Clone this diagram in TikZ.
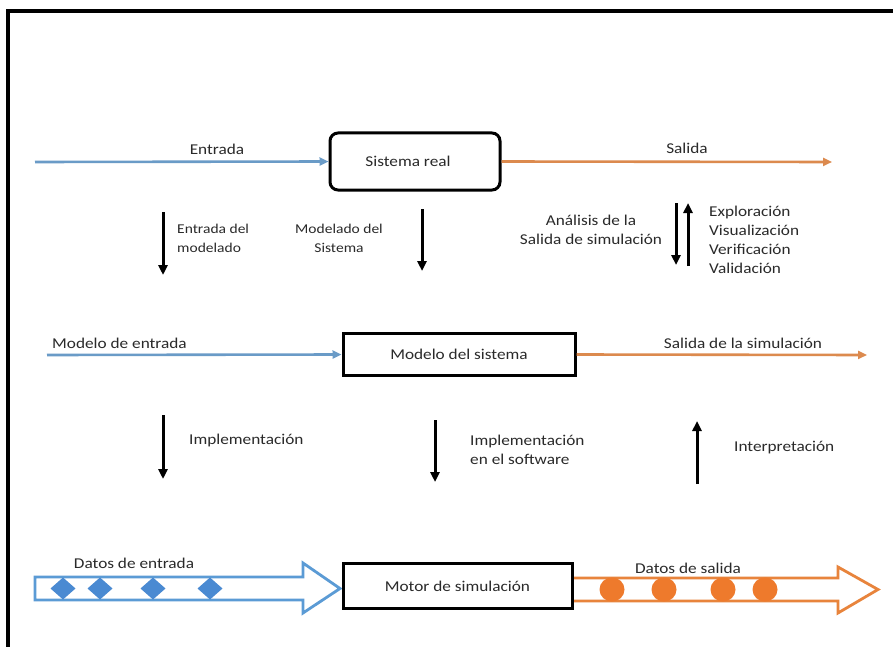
\documentclass[tikz,border=0pt]{standalone}
\usepackage{fontspec}
\setmainfont{Carlito}[FakeStretch=1.15]
\usetikzlibrary{arrows.meta}
\definecolor{inblue}{HTML}{6A9BC7}
\definecolor{outorange}{HTML}{DC8A4E}
\definecolor{datablue}{HTML}{5B9BD5}
\definecolor{dotblue}{HTML}{4A8AD2}
\definecolor{dataorange}{HTML}{E8843C}
\definecolor{dotorange}{HTML}{EE7A2C}
\definecolor{ink}{HTML}{2A2A2A}
\tikzset{
  lbl/.style={font=\fontsize{15}{19}\selectfont, text=ink, inner sep=0pt},
  smalllbl/.style={lbl, font=\fontsize{13.5}{19}\selectfont},
  boxsq/.style={draw=black, line width=3pt, fill=white, font=\fontsize{15}{19}\selectfont, text=ink},
  flowin/.style={draw=inblue, line width=2.6pt, -{Triangle[length=9pt,width=8pt]}},
  flowout/.style={draw=outorange, line width=2.6pt, -{Triangle[length=9pt,width=8pt]}},
  vstep/.style={draw=black, line width=3pt, -{Triangle[length=10pt,width=9pt]}},
  hollowblue/.style={draw=datablue, line width=2.8pt, fill=white, line join=miter},
  hollowor/.style={draw=dataorange, line width=2.8pt, fill=white, line join=miter},
}
\begin{document}
\begin{tikzpicture}[x=1pt, y=-1pt]
\useasboundingbox (0,0) rectangle (893,647);
\fill[white] (0,0) rectangle (893,647);
% frame edges
\draw[line width=4pt] (8,647) -- (8,11.5) -- (893,11.5);

% --- row 1: real system ---
\node[boxsq, rounded corners=8pt, minimum width=170pt, minimum height=57pt] (real) at (415,161.5) {Sistema real\hspace*{14pt}};
\coordinate (inA) at (35,162);
\coordinate (outA) at (832,162);
\draw[flowin] (inA) -- (real.west);
\draw[flowout] (real.east) -- (outA);
\node[lbl] (lEntrada) at (217,149) {Entrada};
\node[lbl] (lSalida) at (687,148) {Salida};

% --- arrows between row 1 and row 2 ---
\coordinate (a1s) at (163,212); \coordinate (a1e) at (163,275);
\draw[vstep] (a1s) -- (a1e);
\node[smalllbl, anchor=west, align=left] (lEntMod) at (177,238) {Entrada del\\modelado};
\coordinate (a2s) at (422,209); \coordinate (a2e) at (422,271);
\draw[vstep] (a2s) -- (a2e);
\node[smalllbl, align=center] (lModSis) at (339,238) {Modelado del\\Sistema};
\node[lbl, align=center] (lAnal) at (591,230) {Análisis de la\\Salida de simulación};
\coordinate (a3s) at (676,203); \coordinate (a3e) at (676,265);
\draw[vstep] (a3s) -- (a3e);
\coordinate (a4s) at (688,266); \coordinate (a4e) at (688,203);
\draw[vstep] (a4s) -- (a4e);
\node[lbl, anchor=west, align=left] (lExpl) at (709,240) {Exploración\\Visualización\\Verificación\\Validación};

% --- row 2: system model ---
\node[boxsq, minimum width=232pt, minimum height=42pt] (model) at (459,354.5) {Modelo del sistema};
\coordinate (inB) at (47,355);
\coordinate (outB) at (867,355);
\draw[flowin] (inB) -- (model.west);
\draw[flowout] (model.east) -- (outB);
\node[lbl, anchor=west] (lModEnt) at (52,343) {Modelo de entrada};
\node[lbl] (lSalSim) at (743,343) {Salida de la simulación};

% --- arrows between row 2 and row 3 ---
\coordinate (b1s) at (163,415); \coordinate (b1e) at (163,479);
\draw[vstep] (b1s) -- (b1e);
\node[lbl, anchor=west] (lImpl) at (189,440) {Implementación};
\coordinate (b2s) at (435,420); \coordinate (b2e) at (435,482);
\draw[vstep] (b2s) -- (b2e);
\node[lbl, anchor=west, align=left] (lImplSw) at (470,450) {Implementación\\en el software};
\coordinate (b3s) at (697,484); \coordinate (b3e) at (697,421);
\draw[vstep] (b3s) -- (b3e);
\node[lbl, anchor=west] (lInterp) at (734,448) {Interpretación};

% --- row 3: simulation engine with data streams ---
\draw[hollowblue] (35,577) -- (303,577) -- (303,563) -- (340,588.5) -- (303,613) -- (303,600) -- (35,600) -- cycle;
\foreach \cx in {63,100,153,210}
  \fill[dotblue] (\cx-12.5,588.5) -- (\cx,577.5) -- (\cx+12.5,588.5) -- (\cx,599.5) -- cycle;
\draw[hollowor] (570,578) -- (838,578) -- (838,567) -- (878,589.5) -- (838,613) -- (838,601) -- (570,601) -- cycle;
\foreach \cx in {612,664,723,765}
  \fill[dotorange] (\cx,589.5) ellipse (12.5pt and 12pt);
\node[boxsq, minimum width=229pt, minimum height=45pt] (motor) at (457.5,586) {Motor de simulación};
\node[lbl] (lDatEnt) at (134,563) {Datos de entrada};
\node[lbl] (lDatSal) at (688,568) {Datos de salida};
\end{tikzpicture}
\end{document}
